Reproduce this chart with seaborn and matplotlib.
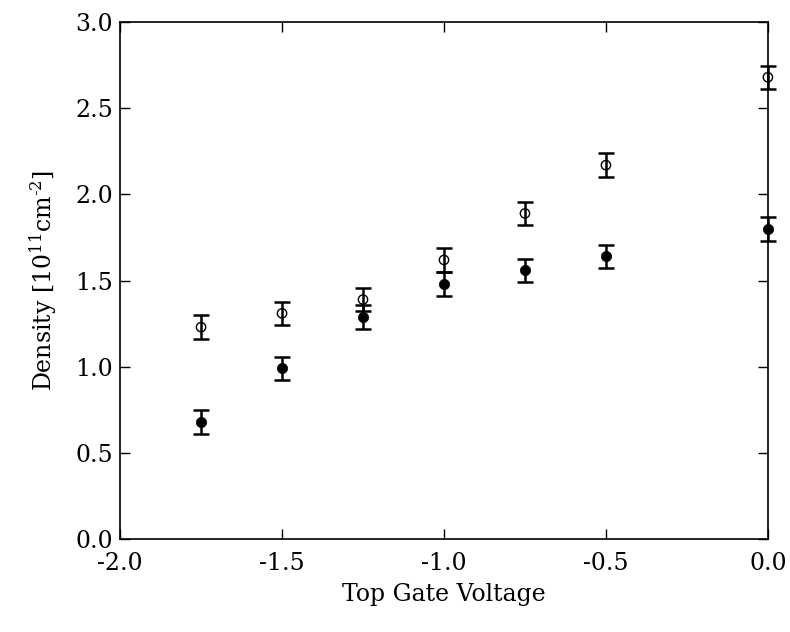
import numpy as np
import pandas as pd
import matplotlib
matplotlib.use("Agg")
import matplotlib.pyplot as plt
import seaborn as sns

# Top gate voltage (V)
voltage = [-1.75, -1.5, -1.25, -1.0, -0.75, -0.5, 0.0]
# Carrier densities (1e11 cm^-2) for the two populations
density_open = [1.23, 1.31, 1.39, 1.62, 1.89, 2.17, 2.68]
density_filled = [0.68, 0.99, 1.29, 1.48, 1.56, 1.64, 1.80]
# Uncertainties
err_open = [0.068, 0.068, 0.068, 0.068, 0.068, 0.068, 0.068]
err_filled = [0.068, 0.068, 0.068, 0.068, 0.068, 0.068, 0.068]

xticks = [-2.0, -1.5, -1.0, -0.5, 0.0]
yticks = [0.0, 0.5, 1.0, 1.5, 2.0, 2.5, 3.0]

sns.set_theme(style="ticks")
plt.rcParams["font.family"] = ["DejaVu Serif"]
plt.rcParams["mathtext.fontset"] = "dejavuserif"
plt.rcParams["text.color"] = "black"
plt.rcParams["axes.labelcolor"] = "black"

df = pd.DataFrame({
    "voltage": voltage * 2,
    "density": density_open + density_filled,
    "err": err_open + err_filled,
    "kind": ["open"] * len(voltage) + ["filled"] * len(voltage),
})

fig = plt.figure(figsize=(7.9, 6.32), dpi=100)
ax = fig.add_axes([0.152, 0.147, 0.82, 0.818])

for kind, sub in df.groupby("kind"):
    eb = ax.errorbar(sub["voltage"], sub["density"], yerr=sub["err"], fmt="none",
                     ecolor="black", elinewidth=1.8, capsize=5.8, capthick=1.8,
                     zorder=2)
    for art in list(eb.lines[1]) + list(eb.lines[2]):
        art.set_clip_on(False)

filled = df[df["kind"] == "filled"]
opened = df[df["kind"] == "open"]
sns.scatterplot(data=filled, x="voltage", y="density", ax=ax, marker="o",
                s=55, color="black", edgecolor="black", linewidth=0.5,
                zorder=3, legend=False, clip_on=False)
sns.scatterplot(data=opened, x="voltage", y="density", ax=ax, marker="o",
                s=45, facecolors="none", edgecolor="black", linewidth=1.0,
                zorder=3, legend=False, clip_on=False)

ax.set_xlim(-2.0, 0.0)
ax.set_ylim(0.0, 3.0)
ax.set_xticks(xticks)
ax.set_yticks(yticks)
ax.set_xticklabels([f"{t:.1f}" for t in xticks])
ax.set_yticklabels([f"{t:.1f}" for t in yticks])
ax.tick_params(direction="in", length=7, width=1.0, top=True, right=True,
               labelsize=17, colors="black")
ax.tick_params(axis="x", pad=9)
ax.tick_params(axis="y", pad=5)
for s in ax.spines.values():
    s.set_linewidth(1.2)
    s.set_color("black")
    s.set_visible(True)

ax.set_xlabel("Top Gate Voltage", fontsize=17, labelpad=6)
ax.set_ylabel(r"Density [10$^{11}$cm$^{\text{-2}}$]", fontsize=17, labelpad=12)

fig.savefig("out.png", dpi=100)
